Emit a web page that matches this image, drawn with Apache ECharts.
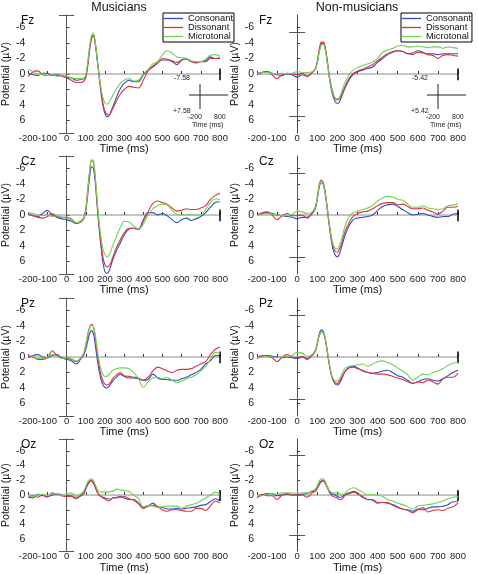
<!DOCTYPE html>
<html><head><meta charset="utf-8">
<script src="https://cdn.jsdelivr.net/npm/echarts@6/dist/echarts.min.js"></script>
<style>html,body{margin:0;padding:0;background:#fff}#c{width:478px;height:574px}</style>
</head><body><div id="c"></div>
<script>
// ---- data ----
const times = [-200,-175,-150,-125,-100,-75,-50,-25,0,25,50,75,90,100,110,120,130,140,150,160,170,180,190,200,210,220,230,240,260,280,300,325,350,375,400,425,450,475,500,525,550,575,600,625,650,675,700,725,750,775,800];
const conditions = ['Consonant','Dissonant','Microtonal'];
const groups = ['Musicians','Non-musicians'];
const electrodes = ['Fz','Cz','Pz','Oz'];
const scaleBars = [7.58, 5.42];
const yTicks = [-6,-4,-2,0,2,4,6];
const xTicks = [-200,-100,0,100,200,300,400,500,600,700,800];
const zeroLine = [[-200,0],[800,0]];
const endTick = [-0.7, 0.8];
const capHalfWidth = 40;

const fzMusCon = [-0.1,0.1,0.2,-0.1,-0.1,0.2,0.1,0.2,0.4,0.5,0.8,0.7, 0.6, 0.3,-1.2,-3.2,-4.7,-5.0,-3.8,-1.7,0.4,2.5,4.1,5.1,5.5,5.4,4.9,4.3, 3.0,1.9,1.2, 0.8,1.0,1.0,0.1,-0.5,-1.0,-1.5,-1.8,-1.8,-1.6,-1.2,-1.8,-2.0,-1.6,-1.5,-1.6,-1.7,-2.2,-2.0,-2.0];
const fzMusDis = [0.3,-0.3,-0.4,0.1,0.2,0.1,0.2,0.3,0.5,0.8,1.1,1.1, 0.9, 0.5,-1.0,-3.0,-4.5,-4.9,-3.9,-1.9,0.2,2.2,3.8,4.8,5.2,5.3,5.0,4.5, 3.5,2.6,2.0, 1.6,1.7,1.8,0.8,-0.4,-0.9,-1.4,-2.0,-1.9,-1.7,-1.5,-1.8,-1.9,-1.6,-1.4,-1.6,-1.6,-2.0,-2.0,-2.1];
const fzMusMic = [-0.6,-0.3,0.1,0.0,0.2,0.1,0.3,0.2,0.3,0.5,0.6,0.6, 0.5, 0.1,-1.5,-3.6,-5.0,-5.3,-4.0,-1.8,0.2,1.9,3.1,3.7,3.9,3.7,3.3,2.8, 1.9,1.2,0.8, 0.6,0.9,0.8,0.0,-0.6,-1.3,-1.6,-2.5,-3.0,-2.7,-2.2,-2.1,-2.0,-1.7,-1.6,-1.6,-1.9,-2.4,-2.5,-2.3];

const fzNonCon = [0.1,-0.2,-0.3,-0.1,0.1,0.2,0.0,0.1,0.4,0.1,0.3,-0.2, -0.6, -1.5,-3.0,-3.9,-4.0,-3.2,-1.5,0.5,2.0,3.0,3.6,3.8,3.6,3.0,2.3,1.7, 0.7,0.0,-0.3, -0.5,-0.7,-0.9,-1.5,-2.0,-2.5,-2.8,-3.0,-2.9,-2.6,-2.7,-3.0,-2.8,-2.6,-2.6,-2.5,-2.6,-2.6,-2.6,-2.6];
const fzNonDis = [-0.1,-0.2,-0.3,0.1,0.6,0.1,-0.1,0.0,0.1,-0.1,0.3,-0.2, -0.7, -1.6,-3.2,-4.1,-4.1,-3.3,-1.7,0.2,1.6,2.6,3.2,3.3,3.2,2.7,2.1,1.5, 0.5,-0.1,-0.4, -0.6,-0.9,-1.2,-1.7,-2.2,-2.6,-2.9,-3.0,-2.9,-2.6,-2.5,-2.8,-2.7,-2.5,-2.4,-2.0,-2.4,-2.5,-2.4,-2.3];
const fzNonMic = [0.0,-0.2,-0.2,-0.1,0.0,-0.1,0.0,-0.1,-0.3,-0.2,-0.2,-0.3, -0.6, -1.4,-2.8,-3.7,-3.8,-3.0,-1.4,0.4,1.8,2.7,3.1,3.2,3.0,2.4,1.6,1.0, 0.0,-0.5,-0.8, -1.1,-1.3,-1.5,-2.0,-2.8,-3.1,-3.3,-3.6,-3.7,-3.5,-3.5,-3.6,-3.5,-3.4,-3.5,-3.5,-3.3,-3.5,-3.4,-3.3];

const czMusCon = [-0.1,0.1,0.2,-0.2,-0.6,0.0,0.3,0.5,0.6,0.8,1.1,0.9, 0.5, -0.5,-2.5,-4.8,-6.2,-6.0,-4.0,-1.0,1.8,4.2,6.2,7.3,7.5,7.3,6.6,5.8, 4.6,3.6,2.6, 1.8,1.7,1.8,0.6,-0.3,-0.3,0.0,-0.2,0.1,0.6,1.0,0.6,0.4,0.7,0.5,0.2,-0.3,-1.0,-1.6,-1.7];
const czMusDis = [-0.2,0.1,0.3,0.4,0.2,-0.2,0.2,0.3,0.3,0.5,1.0,0.8, 0.3, -0.8,-3.2,-5.6,-7.0,-6.8,-4.6,-1.5,1.5,3.8,5.5,6.4,6.7,6.6,6.2,5.5, 4.2,3.2,2.3, 1.7,1.7,1.9,0.8,-0.4,-1.5,-1.8,-1.6,-1.4,-0.9,-0.5,-0.6,-0.8,-0.7,-0.7,-0.9,-1.2,-2.0,-2.5,-2.8];
const czMusMic = [-0.3,-0.2,0.0,0.1,0.0,0.2,0.1,0.3,0.4,0.6,1.0,0.9, 0.5, -0.6,-3.0,-5.6,-7.1,-7.0,-4.8,-1.7,1.0,3.0,4.4,5.1,5.4,5.2,4.7,4.0, 2.8,1.6,0.8, 0.9,1.4,1.8,1.2,0.0,-0.8,-1.2,-1.4,-1.3,-0.6,-0.1,0.0,0.0,0.0,0.0,0.0,-0.7,-1.6,-2.1,-2.0];

const czNonCon = [0.0,-0.2,-0.3,-0.2,0.0,0.1,0.2,0.3,0.5,0.3,0.3,-0.2, -0.8, -2.0,-3.6,-4.2,-3.9,-2.6,-0.6,1.5,3.3,4.6,5.2,5.4,5.0,4.2,3.3,2.5, 1.3,0.6,0.4, 0.3,0.2,0.0,-0.6,-1.1,-1.3,-1.4,-1.1,-0.7,-0.3,0.0,-0.1,-0.2,0.0,0.2,0.3,0.2,0.2,-0.1,-0.2];
const czNonDis = [0.0,-0.3,-0.4,0.0,0.6,0.1,-0.2,0.1,0.1,0.0,0.4,-0.3, -1.0, -2.3,-4.0,-4.5,-4.2,-2.9,-0.9,1.2,2.9,4.1,4.7,4.8,4.4,3.7,2.8,2.0, 0.9,0.1,-0.2, -0.4,-0.5,-0.8,-1.2,-1.5,-1.6,-1.6,-1.3,-1.4,-1.1,-0.8,-0.8,-0.9,-0.6,-0.4,-0.1,-0.5,-1.0,-1.0,-1.1];
const czNonMic = [0.1,-0.1,-0.2,-0.1,0.0,0.1,0.0,-0.1,-0.5,-0.4,-0.2,-0.4, -1.0, -2.1,-3.8,-4.3,-4.0,-2.7,-0.8,1.2,2.9,3.9,4.3,4.4,4.0,3.2,2.2,1.3, 0.1,-0.3,-0.5, -0.7,-0.9,-1.2,-1.8,-2.2,-2.4,-2.3,-2.0,-1.9,-1.4,-1.0,-1.0,-1.2,-0.9,-0.8,-0.7,-0.8,-1.2,-1.3,-1.4];

const pzMusCon = [0.1,-0.2,-0.3,0.0,0.1,-0.2,-0.3,0.1,0.3,0.5,0.9,0.2, -0.3, -1.0,-2.0,-3.0,-3.4,-3.0,-1.5,0.3,1.8,2.9,3.6,3.9,4.0,3.8,3.5,3.1, 2.6,2.2,2.5, 2.7,2.7,2.8,3.0,2.9,2.2,2.7,2.9,2.9,3.0,3.0,2.8,2.6,2.3,2.0,1.6,0.9,0.5,-0.2,-0.2];
const pzMusDis = [-0.1,0.0,0.3,0.3,0.1,-0.8,-0.2,0.1,0.2,0.3,0.6,0.1, -0.5, -1.5,-2.8,-3.8,-4.2,-3.9,-2.5,-0.5,1.2,2.4,3.1,3.5,3.6,3.5,3.2,2.8, 2.3,2.0,2.4, 2.5,2.6,2.7,3.0,2.6,1.8,1.3,1.5,1.8,2.0,1.7,1.6,1.6,1.5,1.2,0.9,0.6,-0.3,-1.0,-1.3];
const pzMusMic = [-0.2,-0.1,0.2,0.2,0.0,-0.3,-0.1,0.2,0.1,0.2,0.5,0.1, -0.6, -1.6,-2.9,-3.8,-4.1,-3.9,-2.8,-1.0,0.6,1.7,2.3,2.5,2.5,2.3,2.0,1.7, 1.5,1.4,1.4, 1.5,2.0,2.8,3.9,3.2,2.7,2.6,2.8,2.6,3.0,3.3,3.1,2.8,2.6,2.3,1.8,1.2,0.3,-0.6,-0.4];

const pzNonCon = [0.2,-0.1,-0.2,-0.1,0.0,0.1,0.0,0.1,0.2,0.0,0.3,-0.3, -0.8, -1.8,-3.0,-3.5,-3.3,-2.3,-0.7,1.0,2.3,3.1,3.5,3.6,3.4,2.9,2.3,1.8, 1.3,1.2,1.4, 1.8,2.0,2.1,2.0,1.8,1.7,2.0,2.4,2.6,3.0,3.4,3.2,2.9,2.8,3.0,3.1,2.8,2.4,2.0,1.7];
const pzNonDis = [0.1,-0.2,-0.1,0.1,0.6,0.0,-0.3,0.0,0.1,-0.1,0.2,-0.2, -0.7, -1.6,-2.8,-3.2,-3.1,-2.2,-0.6,1.0,2.3,3.0,3.3,3.4,3.1,2.7,2.2,1.8, 1.4,1.3,1.5, 1.7,2.0,2.1,2.2,2.2,2.3,2.5,2.7,2.9,3.2,3.4,3.2,3.3,3.0,3.2,3.5,2.8,2.6,2.6,2.1];
const pzNonMic = [0.1,0.0,-0.1,0.0,0.1,0.0,-0.1,-0.2,-0.6,-0.5,-0.1,-0.3, -0.9, -1.7,-2.8,-3.2,-3.1,-2.3,-0.8,0.9,2.2,2.8,3.1,3.1,2.8,2.3,1.8,1.4, 1.2,1.1,1.0, 0.9,1.2,0.9,0.6,0.5,0.7,1.0,1.4,1.8,2.3,3.0,2.6,2.2,2.3,2.0,1.8,1.5,1.1,0.8,0.7];

const ozMusCon = [0.3,0.4,-0.1,0.1,0.2,0.0,-0.2,0.0,0.2,0.1,0.4,0.1, -0.2, -0.8,-1.4,-1.8,-1.9,-1.6,-1.0,-0.4,0.0,0.2,0.3,0.4,0.5,0.5,0.6,0.4, 0.3,0.2,0.4, 0.6,0.6,1.1,1.7,1.5,1.1,1.6,1.7,1.9,1.9,1.8,1.9,1.8,1.7,1.6,1.4,1.3,0.9,0.5,0.8];
const ozMusDis = [0.2,0.1,0.3,0.0,0.3,-0.3,-0.1,0.1,0.2,0.2,0.5,0.0, -0.3, -0.9,-1.5,-1.9,-2.0,-1.7,-1.1,-0.4,0.0,0.2,0.4,0.5,0.7,0.8,0.6,0.4, 0.4,0.3,0.2, 0.5,0.7,1.2,1.8,1.5,1.4,1.6,2.0,2.2,2.0,2.0,2.1,2.2,2.2,1.8,1.8,2.1,1.5,0.8,1.1];
const ozMusMic = [0.1,0.2,0.0,-0.1,0.1,-0.2,-0.2,0.1,-0.1,-0.3,0.2,-0.2, -0.6, -1.2,-1.8,-2.1,-2.2,-2.0,-1.4,-0.8,-0.5,-0.4,-0.4,-0.4,-0.4,-0.4,-0.5,-0.5, -0.8,-0.7,-0.6, -0.5,0.0,0.5,1.6,1.4,1.5,1.7,1.6,1.5,1.5,1.5,1.8,1.5,1.3,1.1,0.8,0.4,0.0,-0.4,-0.1];

const ozNonCon = [0.3,0.0,-0.2,-0.2,0.1,0.0,-0.1,0.0,0.0,-0.1,-0.2,-0.5, -0.6, -1.0,-1.6,-1.9,-2.0,-1.6,-1.1,-0.5,-0.2,-0.1,0.0,0.2,0.3,0.3,0.1,-0.1, -0.3,-0.5,-0.3, 0.3,0.6,0.7,1.1,1.0,1.1,1.3,1.6,1.9,2.0,2.2,1.9,2.0,1.8,1.6,1.6,1.5,1.3,0.9,0.9];
const ozNonDis = [0.4,-0.1,0.1,0.1,0.6,0.0,-0.2,0.0,0.0,0.0,0.3,-0.3, -0.5, -0.9,-1.4,-1.8,-1.9,-1.6,-1.0,-0.4,0.0,0.2,0.3,0.4,0.6,0.6,0.3,0.0, -0.2,-0.4,-0.2, 0.2,0.6,0.6,1.0,1.0,1.0,1.4,1.7,1.9,2.1,2.4,2.0,1.7,2.3,2.1,2.0,2.1,1.8,1.6,1.1];
const ozNonMic = [0.1,0.1,-0.1,-0.2,-0.1,-0.3,-0.3,-0.3,-0.2,-0.3,-0.3,-0.6, -0.8, -1.3,-1.9,-2.2,-2.2,-1.8,-1.2,-0.6,-0.4,-0.3,-0.3,-0.4,-0.2,0.0,-0.1,-0.3, -0.8,-1.0,-0.8, -0.4,0.0,-0.1,0.0,0.2,0.6,0.8,1.1,1.3,1.6,1.9,1.5,1.4,1.3,1.2,1.0,0.8,0.5,0.3,0.2];

// ---- layout / style ----
const colors = ['#2d4fc4','#e0333a','#6fd452'];
const panelData = [
  [fzMusCon,fzMusDis,fzMusMic],[fzNonCon,fzNonDis,fzNonMic],
  [czMusCon,czMusDis,czMusMic],[czNonCon,czNonDis,czNonMic],
  [pzMusCon,pzMusDis,pzMusMic],[pzNonCon,pzNonDis,pzNonMic],
  [ozMusCon,ozMusDis,ozMusMic],[ozNonCon,ozNonDis,ozNonMic]
];
const gridLefts = [19, 257];
const gridTops = [15, 156, 298, 439];
const gridW = 201, gridH = 118;
const FONT = 'Liberation Sans, Arial, sans-serif';

const grids = [], xAxes = [], yAxes = [], series = [], titles = [];
titles.push({text: groups[0], left: 119, top: 1, textAlign: 'center', padding: 0,
  textStyle: {fontSize: 12.5, fontWeight: 'normal', color: '#111', fontFamily: FONT}});
titles.push({text: groups[1], left: 357, top: 1, textAlign: 'center', padding: 0,
  textStyle: {fontSize: 12.5, fontWeight: 'normal', color: '#111', fontFamily: FONT}});

for (let p = 0; p < 8; p++) {
  const row = Math.floor(p / 2), col = p % 2;
  grids.push({left: gridLefts[col], top: gridTops[row], width: gridW, height: gridH, containLabel: false});
  xAxes.push({
    type: 'value', gridIndex: p, min: -200, max: 800, interval: 100,
    axisLine: {show: false},
    axisTick: {show: true, inside: true, length: 3, customValues: xTicks, lineStyle: {color: '#333'}},
    axisLabel: {fontSize: 9.5, color: '#222', margin: 0, fontFamily: FONT, customValues: xTicks,
      hideOverlap: false, showMinLabel: true, showMaxLabel: true,
      alignMinLabel: 'center', alignMaxLabel: 'center'},
    splitLine: {show: false},
    name: 'Time (ms)', nameLocation: 'middle', nameGap: 10,
    nameTextStyle: {fontSize: 11, color: '#111', fontFamily: FONT}
  });
  yAxes.push({
    type: 'value', gridIndex: p, inverse: true, min: -7.6, max: 7.6,
    axisLine: {show: true, lineStyle: {color: '#444', width: 1}},
    axisTick: {show: true, inside: true, length: 3, customValues: yTicks, lineStyle: {color: '#444'}},
    axisLabel: {fontSize: 10.5, color: '#222', margin: 3, customValues: yTicks, fontFamily: FONT,
      alignMinLabel: 'right', alignMaxLabel: 'right'},
    splitLine: {show: false},
    name: 'Potential (\u00b5V)', nameLocation: 'middle', nameGap: 10, nameRotate: 90,
    nameTextStyle: {fontSize: 10.5, color: '#111', fontFamily: FONT}
  });
  titles.push({text: electrodes[row], left: gridLefts[col] + 2, top: gridTops[row], padding: 0,
    textStyle: {fontSize: 12, fontWeight: 'normal', color: '#111', fontFamily: FONT}});

  const b = scaleBars[col];
  series.push({
    type: 'line', name: '_zero', xAxisIndex: p, yAxisIndex: p, data: zeroLine,
    symbol: 'none', silent: true, z: 1,
    lineStyle: {color: '#8c8c8c', width: 1},
    markLine: {
      symbol: ['none','none'], silent: true, label: {show: false}, animation: false,
      lineStyle: {color: '#555', width: 1, type: 'solid'},
      data: [
        [{coord: [0, -b]}, {coord: [0, b]}],
        [{coord: [-capHalfWidth, -b]}, {coord: [capHalfWidth, -b]}],
        [{coord: [-capHalfWidth, b]}, {coord: [capHalfWidth, b]}],
        [{coord: [800, endTick[0]], lineStyle: {color: '#000', width: 1.5}}, {coord: [800, endTick[1]]}]
      ]
    }
  });
  panelData[p].forEach((vals, k) => {
    series.push({
      type: 'line', name: conditions[k], xAxisIndex: p, yAxisIndex: p,
      data: times.map((t, i) => [t, vals[i]]),
      symbol: 'none', smooth: 0.35, z: 3 + k,
      lineStyle: {color: colors[k], width: 1.1}, itemStyle: {color: colors[k]}
    });
  });
}

const legendBase = {
  orient: 'vertical', top: 13, itemGap: 0, itemWidth: 19, itemHeight: 1.3, icon: 'rect',
  padding: [1, 1, 1, 1], borderColor: '#000', borderWidth: 1, backgroundColor: '#fff',
  data: conditions, selectedMode: false,
  textStyle: {fontSize: 9.3, color: '#111', lineHeight: 8.3, fontFamily: FONT}
};
const legends = [Object.assign({}, legendBase, {left: 163}), Object.assign({}, legendBase, {left: 401})];

function inset(x0, label) {
  const ts = {fontSize: 7, fill: '#222', fontFamily: FONT};
  return [
    {type: 'text', left: x0 + 174, top: 75, style: Object.assign({text: '-' + label}, ts)},
    {type: 'text', left: x0 + 173, top: 108, style: Object.assign({text: '+' + label}, ts)},
    {type: 'line', shape: {x1: x0 + 200, y1: 84, x2: x0 + 200, y2: 109}, style: {stroke: '#222', lineWidth: 1}},
    {type: 'line', shape: {x1: x0 + 189, y1: 95, x2: x0 + 228, y2: 95}, style: {stroke: '#222', lineWidth: 1}},
    {type: 'text', left: x0 + 188, top: 114, style: Object.assign({text: '-200'}, ts)},
    {type: 'text', left: x0 + 214, top: 114, style: Object.assign({text: '800'}, ts)},
    {type: 'text', left: x0 + 192, top: 122, style: Object.assign({text: 'Time (ms)'}, ts)}
  ];
}

const chart = echarts.init(document.getElementById('c'), null, {renderer: 'canvas'});
chart.setOption({
  animation: false,
  backgroundColor: '#fff',
  title: titles,
  legend: legends,
  grid: grids,
  xAxis: xAxes,
  yAxis: yAxes,
  series: series,
  graphic: inset(0, scaleBars[0].toFixed(2)).concat(inset(238, scaleBars[1].toFixed(2)))
});
</script>
</body></html>
